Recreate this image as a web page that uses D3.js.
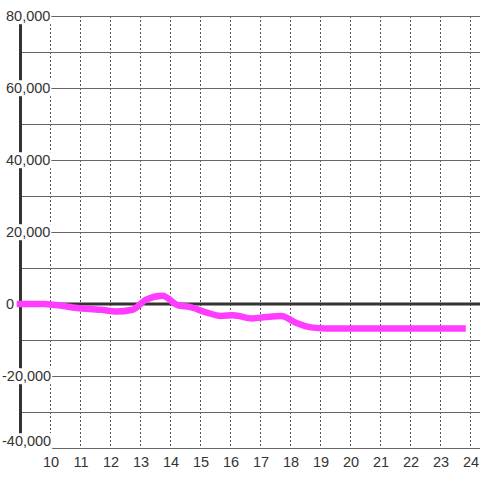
<!DOCTYPE html>
<html>
  <head>
    <meta charset="utf-8">
    <script src="https://cdn.jsdelivr.net/npm/d3@7"></script>
    <style>
      body { margin: 0; background: #fff; }
      svg { display: block; }
    </style>
  </head>
  <body>
    <script>
      // hour of day and value
      const hours = [9.0, 9.8, 10.2, 10.9, 11.7, 12.2, 12.75, 13.2, 13.75, 14.25, 14.65, 15.2, 15.7, 16.1, 16.75, 17.2, 17.7, 18.2, 18.7, 19.2, 23.75];
      const values = [0, 0, -300, -1100, -1600, -2100, -1600, 1200, 2300, -300, -800, -2300, -3300, -3100, -4000, -3600, -3300, -5200, -6500, -6800, -6800];
      const xTicks = [10, 11, 12, 13, 14, 15, 16, 17, 18, 19, 20, 21, 22, 23, 24];
      const yGrid = [-40000, -30000, -20000, -10000, 0, 10000, 20000, 30000, 40000, 50000, 60000, 70000, 80000];
      const yLabels = [-40000, -20000, 0, 20000, 40000, 60000, 80000];

      const w = 480;
      const h = 480;
      const plotLeft = 20;
      const plotTop = 16;
      const plotBottom = 448;

      const svg = d3.select("body").append("svg")
        .attr("width", w)
        .attr("height", h);

      const x = d3.scaleLinear().domain([10, 24]).range([50, 470]);
      const y = d3.scaleLinear().domain([-40000, 80000]).range([plotBottom, plotTop]);

      // vertical dotted grid
      svg.selectAll(".vgrid")
        .data(xTicks)
        .enter()
        .append("line")
        .attr("x1", d => Math.round(x(d)) + 0.5)
        .attr("x2", d => Math.round(x(d)) + 0.5)
        .attr("y1", plotTop)
        .attr("y2", plotBottom)
        .attr("stroke", "#555")
        .attr("stroke-dasharray", "2,2");

      // horizontal grid
      svg.selectAll(".hgrid")
        .data(yGrid.filter(d => d !== 0))
        .enter()
        .append("line")
        .attr("x1", plotLeft)
        .attr("x2", w)
        .attr("y1", d => Math.round(y(d)) + 0.5)
        .attr("y2", d => Math.round(y(d)) + 0.5)
        .attr("stroke", "#666");

      // left axis line
      svg.append("line")
        .attr("x1", plotLeft + 0.5).attr("x2", plotLeft + 0.5)
        .attr("y1", plotTop).attr("y2", plotBottom)
        .attr("stroke", "#333")
        .attr("stroke-width", 3);

      // zero line
      svg.append("line")
        .attr("x1", plotLeft).attr("x2", w)
        .attr("y1", y(0)).attr("y2", y(0))
        .attr("stroke", "#333")
        .attr("stroke-width", 3);

      // y labels with white boxes
      const fmt = v => d3.format(",")(v).replace("\u2212", "-");
      const yl = svg.selectAll(".ylab")
        .data(yLabels)
        .enter()
        .append("g")
        .attr("transform", d => `translate(${d < 0 ? 2 : 6},${Math.min(y(d), 441)})`);

      yl.append("text")
        .text(d => fmt(d))
        .attr("text-anchor", "start")
        .attr("dy", "0.36em")
        .attr("font-family", "Liberation Sans, Arial, sans-serif")
        .attr("font-size", "14.5px")
        .attr("fill", "#333");

      yl.each(function () {
        const g = d3.select(this);
        const b = g.select("text").node().getBBox();
        g.insert("rect", "text")
          .attr("x", b.x - 1)
          .attr("y", b.y)
          .attr("width", b.width + 2)
          .attr("height", b.height)
          .attr("fill", "#fff");
      });

      // the series
      const pts = hours.map((d, i) => [d, values[i]]);
      const line = d3.line()
        .x(d => x(d[0]))
        .y(d => y(d[1]))
        .curve(d3.curveMonotoneX);

      svg.append("path")
        .datum(pts)
        .attr("d", line)
        .attr("fill", "none")
        .attr("stroke", "#ff3cff")
        .attr("stroke-width", 6.5)
        .attr("stroke-linecap", "square")
        .attr("stroke-linejoin", "round");

      // x labels
      svg.selectAll(".xlab")
        .data(xTicks)
        .enter()
        .append("text")
        .text(d => d)
        .attr("x", d => x(d) + 1)
        .attr("y", 467)
        .attr("text-anchor", "middle")
        .attr("font-family", "Liberation Sans, Arial, sans-serif")
        .attr("font-size", "14.5px")
        .attr("fill", "#333");
    </script>
  </body>
</html>
